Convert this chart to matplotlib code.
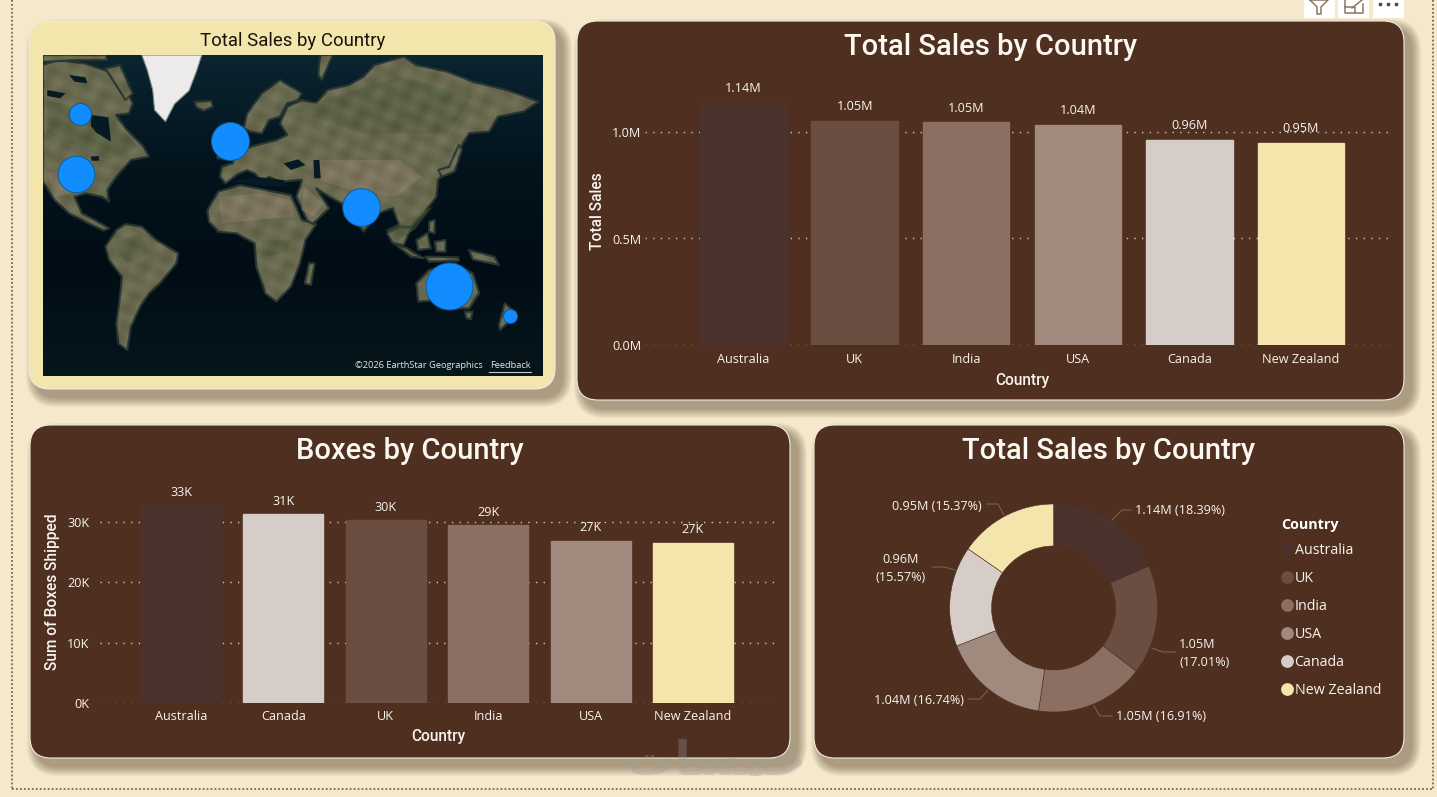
import numpy as np
import matplotlib
matplotlib.use("Agg")
import matplotlib.pyplot as plt
from matplotlib.patches import FancyBboxPatch, Polygon, Rectangle, PathPatch
from matplotlib.path import Path
from matplotlib.lines import Line2D
from matplotlib.ticker import FuncFormatter

W, H = 1437, 797
PAGE = "#f5e8cb"
PANEL = "#4f2f20"
CREAM = "#f3e6ad"
TEXT = "#f8f4ee"

# ---------- data ----------
sales_countries = ["Australia", "UK", "India", "USA", "Canada", "New Zealand"]
sales_values = [1.137, 1.051, 1.045, 1.035, 0.962, 0.950]
sales_labels = ["1.14M", "1.05M", "1.05M", "1.04M", "0.96M", "0.95M"]
sales_ticks = [0.0, 0.5, 1.0]

boxes_countries = ["Australia", "Canada", "UK", "India", "USA", "New Zealand"]
boxes_values = [32.8, 31.3, 30.3, 29.5, 26.9, 26.6]
boxes_labels = ["33K", "31K", "30K", "29K", "27K", "27K"]
boxes_ticks = [0, 10, 20, 30]

share_values = [18.39, 17.01, 16.91, 16.74, 15.57, 15.37]
share_labels = ["1.14M (18.39%)", "1.05M\n(17.01%)", "1.05M (16.91%)",
                "1.04M (16.74%)", "0.96M\n(15.57%)", "0.95M (15.37%)"]

country_colors = {"Australia": "#4b322c", "UK": "#6b4e42", "India": "#8b6f63",
                  "USA": "#a08a7e", "Canada": "#d6cdc9", "New Zealand": "#f3e5ab"}

bubble_countries = ["Canada", "USA", "UK", "India", "Australia", "New Zealand"]
bubble_x = [79.5, 76, 229.8, 360.7, 448.5, 510]
bubble_y = [114, 174, 141, 207, 285.5, 316]
bubble_radius = [11, 18.3, 19, 18.8, 23.5, 7]

# ---------- map outlines (background picture, traced on a 2.75 x 3 grid) ----------
land = [
 [(118,195),(160,180),(230,190),(300,215),(340,260),(365,310),(355,340),(320,345),(345,385),(395,440),(410,470),(360,480),(320,530),(295,570),(300,605),(280,590),(235,580),(205,590),(225,640),(260,660),(300,685),(285,692),(240,668),(190,640),(150,600),(118,545)],
 [(118,165),(290,165),(295,180),(230,180),(118,185)],
 [(290,205),(330,195),(365,280),(345,300)],
 [(290,740),(320,690),(345,672),(390,680),(430,720),(490,760),(485,790),(440,850),(410,880),(385,920),(360,980),(350,1050),(325,1030),(320,970),(330,890),(335,830),(300,780)],
 [(570,630),(600,575),(660,555),(730,570),(800,585),(830,660),(870,672),(840,720),(825,790),(800,860),(760,905),(730,880),(705,800),(700,730),(650,700),(600,695),(575,665)],
 [(850,790),(865,790),(855,855),(838,850)],
 [(670,385),(680,340),(720,280),(770,240),(830,280),(820,300),(790,310),(770,350),(740,360),(720,400),(690,395)],
 [(605,530),(610,500),(640,490),(648,462),(690,440),(725,430),(760,420),(790,405),(770,370),(790,320),(830,300),(870,310),(900,270),(960,255),(1000,230),(1030,195),(1110,170),(1145,195),(1230,215),(1300,245),(1400,272),(1480,305),(1440,335),(1370,350),(1345,395),(1290,400),(1262,450),(1235,500),(1205,540),(1200,590),(1165,640),(1130,680),(1100,680),(1080,625),(1040,640),(1000,695),(940,610),(905,590),(870,565),(905,625),(860,672),(845,662),(815,590),(825,560),(830,540),(770,545),(740,530),(720,545),(700,520),(680,510),(650,525),(620,550)],
 [(1065,700),(1100,680),(1130,685),(1110,735),(1080,730)],
 [(1090,735),(1130,770),(1165,775),(1120,745)],
 [(1170,770),(1260,772),(1262,782),(1180,785)],
 [(1145,720),(1175,700),(1185,745),(1150,750)],
 [(1195,725),(1225,720),(1225,755),(1200,755)],
 [(1290,750),(1360,770),(1372,795),(1300,778)],
 [(1145,850),(1180,810),(1250,790),(1300,820),(1318,880),(1290,925),(1250,925),(1200,900),(1150,905)],
 [(1278,935),(1300,935),(1295,958),(1283,955)],
 [(1388,910),(1420,940),(1400,965),(1375,990),(1372,975)],
 [(1205,510),(1235,500),(1262,435),(1270,450),(1250,515),(1215,530)],
 [(1180,665),(1195,660),(1195,700),(1180,695)],
 [(535,305),(580,303),(585,320),(560,332),(540,322)],
 [(600,450),(620,440),(622,475),(598,475)],
 [(880,165),(915,165),(885,240),(875,225)],
]
greenland = [(390,165),(555,165),(540,215),(520,272),(480,312),(455,365),(425,330),(420,270),(405,210)]
water = [
 [(250,345),(298,352),(305,425),(265,398),(250,378)],
 [(250,470),(272,468),(272,482),(252,482)],
 [(780,490),(820,478),(840,495),(800,510)],
 [(862,480),(878,480),(882,535),(864,535)],
 [(640,545),(700,530),(780,540),(790,560),(700,555)],
 [(190,225),(235,232),(240,250),(205,245)],
 [(130,270),(180,280),(165,295),(130,288)],
]
dry = [
 [(600,590),(720,580),(800,600),(810,650),(700,660),(610,670)],
 [(835,560),(890,610),(860,650),(830,630)],
 [(880,480),(1100,480),(1160,530),(1090,590),(960,570),(880,540)],
 [(1170,830),(1290,830),(1290,900),(1190,890)],
 [(130,520),(200,510),(200,580),(150,590)],
]
green = [
 [(310,730),(390,700),(410,760),(350,790)],
 [(720,720),(800,720),(790,760),(720,770)],
 [(800,330),(1100,230),(1300,290),(1230,400),(1000,400)],
 [(130,300),(300,350),(380,440),(300,480),(130,400)],
 [(1060,690),(1190,620),(1140,690),(1090,720)],
]

# ---------- page ----------
plt.rcParams["font.family"] = ["Open Sans", "DejaVu Sans"]
fig = plt.figure(figsize=(W / 100, H / 100), dpi=100, facecolor=PAGE)


def px_axes(x0, y0, x1, y1, **kw):
    return fig.add_axes([x0 / W, 1 - y1 / H, (x1 - x0) / W, (y1 - y0) / H], **kw)


bg = fig.add_axes([0, 0, 1, 1], zorder=0)
bg.set_xlim(0, W)
bg.set_ylim(H, 0)
bg.axis("off")

# dotted frame
frame = dict(color="#6f6a5c", lw=1.3, ls=(0, (1, 1.2)), zorder=1)
bg.plot([11.5, 11.5], [0, 789], **frame)
bg.plot([1433, 1433], [0, 789], **frame)
bg.plot([11.5, 1433], [789, 789], **frame)


def panel(x0, y0, x1, y1, face, r=21):
    for i in range(10):
        g = 10 - i
        bg.add_patch(FancyBboxPatch((x0 + 7 - g, y0 + 8 - g), x1 - x0 + 2 * g, y1 - y0 + 2 * g,
                                    boxstyle=f"round,pad=0,rounding_size={r + g}",
                                    fc="#4a3a22", ec="none", alpha=0.05, zorder=2))
    bg.add_patch(FancyBboxPatch((x0, y0), x1 - x0, y1 - y0,
                                boxstyle=f"round,pad=0,rounding_size={r}",
                                fc=face, ec="#efeae0", lw=0.8, zorder=3))


panel(29, 21, 555, 389, CREAM)
panel(577, 21, 1404, 400, PANEL)
panel(30, 425, 790, 758, PANEL)
panel(814, 425, 1404, 758, PANEL)

TITLE = dict(family="Roboto", ha="center", va="center", zorder=6)
bg.text(293, 40.5, "Total Sales by Country", color="#17130c", fontsize=13.4, **TITLE)
bg.text(991, 46.5, "Total Sales by Country", color="#fbf8f2", fontsize=21, fontweight="medium", **TITLE)
bg.text(410, 450.5, "Boxes by Country", color="#fbf8f2", fontsize=21, fontweight="medium", **TITLE)
bg.text(1109, 450.5, "Total Sales by Country", color="#fbf8f2", fontsize=21, fontweight="medium", **TITLE)

# header buttons
for x0 in (1304, 1338, 1373):
    bg.add_patch(Rectangle((x0, 0), 30.5, 17.5, fc="white", ec="none", zorder=6))
icon = dict(color="#8a7767", lw=1.1, zorder=7)
bg.plot([1310, 1328, 1321, 1321, 1317, 1317, 1310], [0, 0, 7, 14, 14, 7, 0], **icon)
bg.plot([1345, 1345, 1363, 1363], [0, 13, 13, 4], **icon)
bg.plot([1345, 1355, 1355], [7, 7, 13], **icon)
bg.plot([1352, 1362], [8, 0], **icon)
bg.scatter([1380, 1388, 1396], [4, 4, 4], s=3, color="#5a4a3e", zorder=7)

# ---------- map ----------
mp = px_axes(43, 55, 543, 376, zorder=2)
mp.set_xlim(43, 543)
mp.set_ylim(376, 55)
mp.axis("off")
sea = matplotlib.colors.LinearSegmentedColormap.from_list("sea", ["#0a2430", "#03141d", "#010d15", "#06161d"])
mp.imshow(np.linspace(0, 1, 64)[:, None], extent=(43, 543, 376, 55), aspect="auto", cmap=sea, zorder=0)


def to_px(pts):
    return [(x / 2.75, y / 3) for x, y in pts]


for poly in land:
    mp.add_patch(Polygon(to_px(poly), closed=True, fc="#66674a", ec="#26332f", lw=1.6, zorder=1, joinstyle="round"))
for poly in green:
    mp.add_patch(Polygon(to_px(poly), closed=True, fc="#4f5a3a", ec="none", alpha=0.5, zorder=2))
for poly in dry:
    mp.add_patch(Polygon(to_px(poly), closed=True, fc="#85785f", ec="none", alpha=0.7, zorder=2))

# soft mottling over the land only
xx, yy = np.meshgrid(np.arange(43, 543, 1.0), np.arange(55, 376, 1.0))
mottle = (np.sin(xx * 0.31 + yy * 0.11) + np.sin(yy * 0.37 - xx * 0.17)
          + np.sin(xx * 0.13 + yy * 0.23))
verts, codes = [], []
for poly in land:
    p = to_px(poly)
    verts += p + [p[0]]
    codes += [Path.MOVETO] + [Path.LINETO] * (len(p) - 1) + [Path.CLOSEPOLY]
clip = PathPatch(Path(verts, codes), transform=mp.transData, fc="none", ec="none")
mp.add_patch(clip)
tex = mp.imshow(mottle, extent=(43, 543, 376, 55), aspect="auto", cmap="gray", alpha=0.09, zorder=2.5,
                interpolation="bilinear")
tex.set_clip_path(clip)
mp.set_xlim(43, 543)
mp.set_ylim(376, 55)

for poly in water:
    mp.add_patch(Polygon(to_px(poly), closed=True, fc="#071a24", ec="none", zorder=3))
mp.add_patch(Polygon(to_px(greenland), closed=True, fc="#eceaea", ec="#7d8a88", lw=0.8, zorder=3))
for bx, by, br in zip(bubble_x, bubble_y, bubble_radius):
    mp.scatter([bx], [by], s=(2 * br * 0.72) ** 2, color="#118dff", edgecolors="#0e5a9e", linewidths=0.7, zorder=5)
mp.text(355, 365.5, "©2026 EarthStar Geographics", color="#e6e6e0", fontsize=6.7, va="center", zorder=6)
mp.text(490, 365.5, "Feedback", color="#e6e6e0", fontsize=6.7, va="center", zorder=6)
mp.plot([489, 531], [371.5, 371.5], color="#c8c8c0", lw=0.8, zorder=6)


# ---------- bar charts ----------
def bar_chart(box, cats, vals, labels, ticks, fmt, unit, step, first, width, ylabel, label_pad,
              xpad, ypad, ylab_xy, xlab_xy):
    x0, y0, x1, y1 = box
    ax = px_axes(x0, y0, x1, y1, zorder=3)
    ax.patch.set_alpha(0)
    ax.set_xlim((x0 - first) / step, (x1 - first) / step)
    ax.set_ylim(0, (y1 - y0) / unit)
    ax.bar(range(len(vals)), vals, width=width, color=[country_colors[c] for c in cats],
           edgecolor=[country_colors[c] for c in cats], zorder=3)
    ax.set_xticks(range(len(vals)), cats)
    ax.set_yticks(ticks)
    ax.yaxis.set_major_formatter(FuncFormatter(fmt))
    ax.tick_params(length=0, colors=TEXT, labelsize=9.1)
    ax.tick_params(axis="x", pad=xpad)
    ax.tick_params(axis="y", pad=ypad)
    ax.grid(axis="y", color="#d3c6b9", lw=1.0, ls=(0, (1, 4.5)), zorder=1)
    ax.set_axisbelow(True)
    for s in ax.spines.values():
        s.set_visible(False)
    for i, (v, t) in enumerate(zip(vals, labels)):
        ax.annotate(t, (i, v), xytext=(0, label_pad), textcoords="offset points", ha="center",
                    va="bottom", color=TEXT, fontsize=9.1, zorder=5)
    bg.text(*ylab_xy, ylabel, family="Roboto", rotation=90, color=TEXT, fontsize=11.2,
            fontweight="medium", ha="center", va="center", zorder=6)
    bg.text(*xlab_xy, "Country", family="Roboto", color=TEXT, fontsize=11.2, fontweight="medium",
            ha="center", va="center", zorder=6)
    return ax


bar_chart((645, 80, 1388, 345), sales_countries, sales_values, sales_labels, sales_ticks,
          lambda v, _: f"{v:.1f}M", 213, 111.6, 743, 0.775, "Total Sales", 5.5, 5.8, 2.5, (598, 211), (1022, 380))
bar_chart((100, 485, 776, 703), boxes_countries, boxes_values, boxes_labels, boxes_ticks,
          lambda v, _: f"{v:.0f}K", 6.033, 102.4, 181, 0.78, "Sum of Boxes Shipped", 4.6, 5, 7.5, (52.5, 592), (438, 737))

# ---------- donut ----------
cx, cy, R = 1053.6, 608, 104
dn = px_axes(cx - R - 6, cy - R - 6, cx + R + 6, cy + R + 6, zorder=3)
dn.patch.set_alpha(0)
wedges, _ = dn.pie(share_values, colors=[country_colors[c] for c in sales_countries], startangle=90,
                   counterclock=False, radius=1,
                   wedgeprops=dict(width=1 - 62 / 104, edgecolor=PANEL, linewidth=0.4))
dn.set_xlim(-(R + 6) / R, (R + 6) / R)
dn.set_ylim(-(R + 6) / R, (R + 6) / R)

# x, y, horizontal alignment of each slice label
label_pos = [(1135, 511, "left"), (1179, 653.5, "left"), (1116, 717, "left"),
             (964, 700.5, "right"), (901, 568.5, "center"), (982, 506.5, "right")]
leaders = [
    [(1112, 520), (1122, 510), (1131, 510)],
    [(1152, 648), (1163, 652), (1176, 652)],
    [(1094, 706), (1100, 716), (1112, 716)],
    [(988, 690), (980, 699), (968, 699)],
    [(955, 570), (944, 567), (932, 567)],
    [(1004, 515), (998, 504), (987, 504)],
]
for (lx, ly, ha), t, lead in zip(label_pos, share_labels, leaders):
    bg.text(lx, ly, t, color=TEXT, fontsize=9.1, ha=ha, multialignment=ha,
            va="center", linespacing=1.5, zorder=6)
    bg.plot(*zip(*lead), color="#7a5f50", lw=0.8, zorder=4)

bg.text(1281, 525, "Country", color="white", fontsize=10.3, fontweight="bold", va="center", zorder=6)
handles = [Line2D([], [], ls="", marker="o", ms=9.2, mfc=country_colors[c], mec="none", label=c)
           for c in sales_countries]
leg = bg.legend(handles=handles, loc="upper left", bbox_to_anchor=(1279.5 / W, 1 - 543.5 / H),
                bbox_transform=fig.transFigure, frameon=False, fontsize=10.3, labelcolor=TEXT,
                labelspacing=0.90, handletextpad=-0.05, handlelength=1.1, borderpad=0, borderaxespad=0)
leg.set_zorder(6)

# ---------- watermark ----------
top = fig.add_axes([0, 0, 1, 1], zorder=9)
top.set_xlim(0, W)
top.set_ylim(H, 0)
top.axis("off")
top.text(717, 762, "\ufe95\ufe8e\ufeb4\ufee4\ufea7", family="DejaVu Sans", fontweight="bold", fontsize=34,
         color="#9a9a98", alpha=0.32, ha="center", va="center", zorder=9)

fig.savefig("out.png", dpi=100, facecolor=PAGE)
